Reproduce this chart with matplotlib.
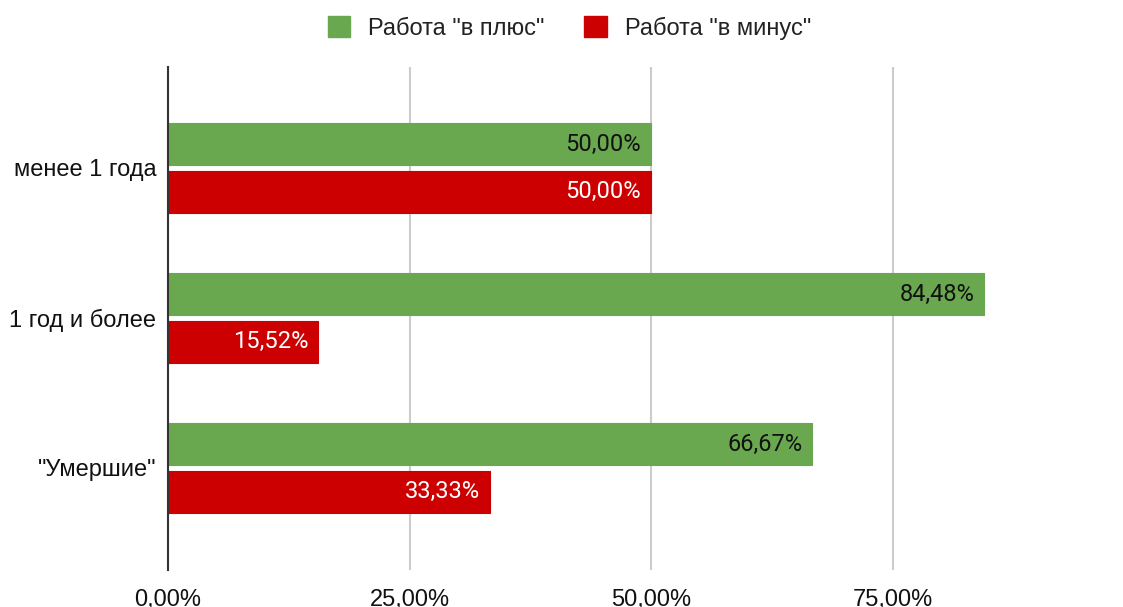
import numpy as np
import matplotlib.pyplot as plt
from matplotlib.patches import Patch

plt.rcParams['font.family'] = ['Liberation Sans', 'DejaVu Sans']

# Data
categories = ['менее 1 года', '1 год и более', '"Умершие"']
plus_vals = [50.00, 84.48, 66.67]
minus_vals = [50.00, 15.52, 33.33]
series_names = ['Работа "в плюс"', 'Работа "в минус"']
x_ticks = [0, 25, 50, 75]

green = '#6aa84f'
red = '#cc0000'
fs = 17

fig = plt.figure(figsize=(11.23, 6.07), dpi=100)
ax = fig.add_axes([168/1123, 37/607, 966/1123, 503/607])

y = np.arange(len(categories))
h = 0.28
off = 0.158

ax.barh(y - off, plus_vals, height=h, color=green, edgecolor=green, linewidth=0.8, joinstyle='round', zorder=3)
ax.barh(y + off, minus_vals, height=h, color=red, edgecolor=red, linewidth=0.8, joinstyle='round', zorder=3)

def fmt(v):
    return f'{v:.2f}'.replace('.', ',') + '%'

for i in range(len(categories)):
    ax.annotate(fmt(plus_vals[i]), (plus_vals[i], y[i] - off), xytext=(-7, 0), textcoords='offset points',
                ha='right', va='center', fontsize=17, family=['Roboto', 'DejaVu Sans'],
                color='#111111', zorder=4)
    ax.annotate(fmt(minus_vals[i]), (minus_vals[i], y[i] + off), xytext=(-7, 0), textcoords='offset points',
                ha='right', va='center', fontsize=17, family=['Roboto', 'DejaVu Sans'],
                color='white', zorder=4)

ax.set_xlim(0, 100)
ax.set_ylim(2.68, -0.673)
ax.set_xticks(x_ticks)
ax.set_xticklabels([fmt(t) for t in x_ticks], fontsize=fs, color='#111111')
ax.set_yticks(y)
ax.set_yticklabels(categories, fontsize=fs, color='#111111')
ax.tick_params(axis='both', length=0)
ax.tick_params(axis='x', pad=13.5)
ax.tick_params(axis='y', pad=8.5)
ax.grid(axis='x', color='#cccccc', linewidth=1.5, zorder=0)
for s in ['top', 'right', 'bottom']:
    ax.spines[s].set_visible(False)
ax.spines['left'].set_color('#333333')
ax.spines['left'].set_linewidth(1.5)
ax.spines['left'].set_zorder(5)

handles = [Patch(facecolor=green, edgecolor=green), Patch(facecolor=red, edgecolor=red)]
fig.legend(handles, series_names, loc='center', bbox_to_anchor=(0.507, 1 - 28/607), ncol=2,
           frameon=False, fontsize=fs, handlelength=0.95, handleheight=0.95, columnspacing=1.7,
           handletextpad=0.75, labelcolor='#222222')

fig.savefig('out.png', dpi=100)
